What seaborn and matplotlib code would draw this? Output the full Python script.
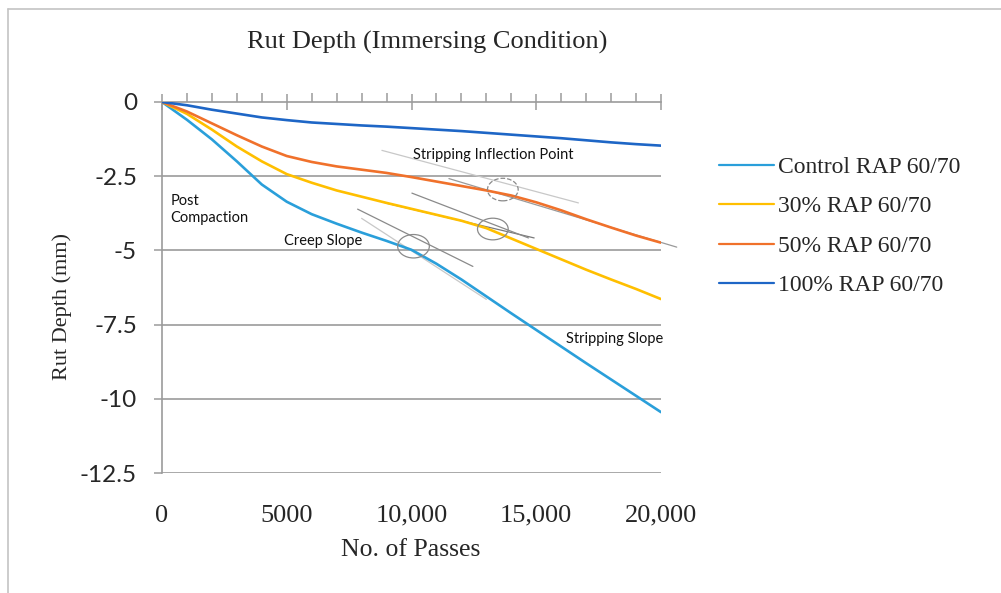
import matplotlib
matplotlib.use("Agg")
import matplotlib.pyplot as plt
import seaborn as sns
import pandas as pd
from matplotlib.patches import Ellipse
from matplotlib.lines import Line2D
from matplotlib.ticker import MultipleLocator, FixedLocator

# ---------------- data ----------------
passes = list(range(0, 21000, 1000))
control = [0, -0.6, -1.26, -2.0, -2.78, -3.36, -3.78, -4.1, -4.4, -4.68, -4.98,
           -5.45, -5.98, -6.55, -7.12, -7.68, -8.24, -8.8, -9.35, -9.9, -10.45]
rap30 = [0, -0.4, -0.93, -1.5, -2.0, -2.43, -2.72, -2.98, -3.19, -3.4, -3.6,
         -3.8, -4.0, -4.25, -4.6, -4.95, -5.3, -5.65, -5.98, -6.3, -6.64]
rap50 = [0, -0.32, -0.72, -1.12, -1.5, -1.82, -2.02, -2.17, -2.28, -2.39, -2.53,
         -2.68, -2.83, -2.98, -3.15, -3.38, -3.65, -3.95, -4.23, -4.5, -4.74]
rap100 = [0, -0.11, -0.26, -0.39, -0.52, -0.61, -0.69, -0.74, -0.79, -0.83, -0.88,
          -0.93, -0.98, -1.04, -1.1, -1.16, -1.22, -1.29, -1.36, -1.42, -1.47]
series_names = ["Control RAP 60/70", "30% RAP 60/70", "50% RAP 60/70", "100% RAP 60/70"]
series_colors = ["#2A9FDA", "#FFBF00", "#F0712B", "#1E66C6"]

x_tick_vals = [0, 5000, 10000, 15000, 20000]
x_tick_labels = ["0", "5000", "10,000", "15,000", "20,000"]
y_tick_vals = [0, -2.5, -5, -7.5, -10, -12.5]
y_tick_labels = ["0", "-2.5", "-5", "-7.5", "-10", "-12.5"]

# tangent lines: (x0, y0, x1, y1, colour)
tangent_lines = [
    (7840, -3.61, 12460, -5.54, "#8a8a8a"),
    (8000, -3.92, 13000, -6.65, "#c8c8c8"),
    (8946, -3.40, 14916, -4.58, "#7a7a7a"),
    (10016, -3.07, 14688, -4.58, "#8a8a8a"),
    (8814, -1.63, 16690, -3.40, "#c8c8c8"),
    (11500, -2.58, 20630, -4.89, "#9a9a9a"),
]
# ellipses: (cx, cy, w, h, linestyle)
ellipses = [
    (10080, -4.86, 1270, 0.79, "-"),
    (13260, -4.28, 1230, 0.73, "-"),
    (13660, -2.95, 1230, 0.76, "--"),
]
# annotations: (x, y, text)
notes = [
    (10080, -1.78, "Stripping Inflection Point"),
    (330, -3.62, "Post\nCompaction"),
    (4870, -4.70, "Creep Slope"),
    (16200, -8.0, "Stripping Slope"),
]

# ---------------- frame ----------------
rows = []
for name, vals in zip(series_names, [control, rap30, rap50, rap100]):
    for p, v in zip(passes, vals):
        rows.append({"passes": p, "depth": v, "mix": name})
df = pd.DataFrame(rows)

sns.set_style("white")
serif = ["Liberation Serif", "DejaVu Serif"]
sans = ["Lato", "DejaVu Sans"]
plt.rcParams["font.family"] = serif

W, H = 1001, 593
fig = plt.figure(figsize=(W / 100, H / 100), dpi=100)
ax = fig.add_axes([162 / W, 1 - 473 / H, (661 - 162) / W, (473 - 102) / H])

grey = "#9b9b9b"
sns.lineplot(data=df, x="passes", y="depth", hue="mix", hue_order=series_names,
             palette=series_colors, linewidth=1.9, ax=ax, legend=False, zorder=5)

ax.set_xlim(0, 20000)
ax.set_ylim(-12.5, 0)

for yv in y_tick_vals[1:]:
    ax.axhline(yv, color=grey, lw=1.2, zorder=1)

for side in ["right", "bottom"]:
    ax.spines[side].set_visible(False)
for side in ["left", "top"]:
    ax.spines[side].set_color(grey)
    ax.spines[side].set_linewidth(1.2)

ax.xaxis.set_major_locator(FixedLocator(x_tick_vals))
ax.xaxis.set_minor_locator(MultipleLocator(1000))
ax.set_xticklabels(x_tick_labels)
ax.tick_params(axis="x", which="major", top=True, bottom=False, labeltop=False,
               labelbottom=True, direction="inout", length=12, width=1.1,
               color=grey, pad=17, labelsize=19)
ax.tick_params(axis="x", which="minor", top=True, bottom=False, direction="out",
               length=6.5, width=1.1, color=grey)
for lab in ax.get_xticklabels():
    lab.set_family(serif)

ax.set_yticks(y_tick_vals)
ax.set_yticklabels(y_tick_labels)
ax.tick_params(axis="y", which="major", left=True, direction="out", length=6,
               width=1.1, color=grey, pad=12, labelsize=17.5)
for lab in ax.get_yticklabels():
    lab.set_family(sans)

ax.set_xlabel("")
ax.set_ylabel("")

for x0, y0, x1, y1, c in tangent_lines:
    ax.plot([x0, x1], [y0, y1], color=c, lw=0.9, zorder=4, clip_on=False)
for cx, cy, w, h, ls in ellipses:
    ax.add_patch(Ellipse((cx, cy), w, h, fill=False, edgecolor="#8a8a8a",
                         lw=0.9, ls=ls, zorder=6))
for x, y, t in notes:
    ax.text(x, y, t, ha="left", va="center", fontsize=10.5, family=sans,
            color="#111111", linespacing=1.3, zorder=7)

handles = [Line2D([0], [0], color=c, lw=1.6) for c in series_colors]
fig.legend(handles, series_names, loc="upper left",
           bbox_to_anchor=(710 / W, 1 - 147 / H), frameon=False,
           prop={"family": serif, "size": 17}, handlelength=2.3,
           handletextpad=0.2, labelspacing=0.76, borderaxespad=0)

fig.text(427 / W, 1 - 42 / H, "Rut Depth (Immersing Condition)", ha="center",
         va="center", fontsize=19, family=serif)
fig.text(411 / W, 1 - 550 / H, "No. of Passes", ha="center", va="center",
         fontsize=18.5, family=serif)
fig.text(62 / W, 1 - 306 / H, "Rut Depth (mm)", ha="center", va="center",
         rotation=90, fontsize=16, family=serif)

fig.add_artist(Line2D([8 / W, 8 / W], [0, 1 - 9 / H], color="#c4c4c4", lw=1.2))
fig.add_artist(Line2D([8 / W, 1], [1 - 9 / H, 1 - 9 / H], color="#c4c4c4", lw=1.2))

fig.savefig("out.png", dpi=100)
